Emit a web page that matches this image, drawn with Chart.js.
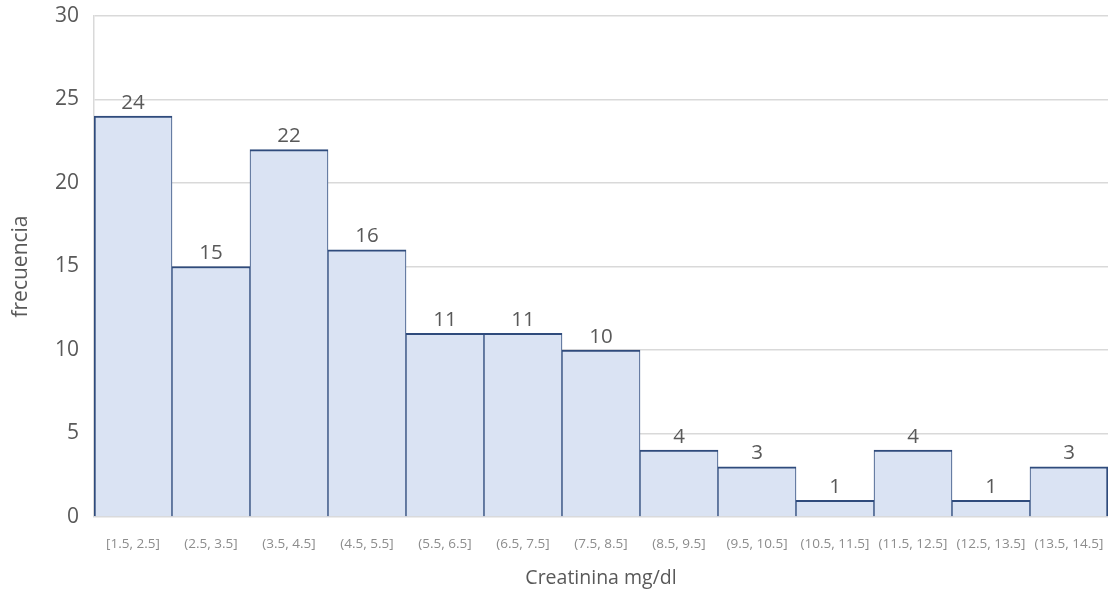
<!DOCTYPE html>
<html><head><meta charset="utf-8">
<script src="https://cdn.jsdelivr.net/npm/chart.js@4"></script>
<style>html,body{margin:0;padding:0;background:#fff}#wrap{width:1116px;height:601px}</style>
</head><body><div id="wrap"><canvas id="c" width="1116" height="601"></canvas></div>
<script>
const categories = ["[1.5, 2.5]","(2.5, 3.5]","(3.5, 4.5]","(4.5, 5.5]","(5.5, 6.5]","(6.5, 7.5]","(7.5, 8.5]","(8.5, 9.5]","(9.5, 10.5]","(10.5, 11.5]","(11.5, 12.5]","(12.5, 13.5]","(13.5, 14.5]"];
const frequencies = [24,15,22,16,11,11,10,4,3,1,4,1,3];
const yTicks = [0,5,10,15,20,25,30];
const xTitle = "Creatinina mg/dl";
const yTitle = "frecuencia";

const FONT = "'Open Sans', sans-serif";

const barLabels = {
  id:'barLabels',
  afterDatasetsDraw(chart){
    const ctx = chart.ctx;
    const meta = chart.getDatasetMeta(0);
    ctx.save();
    ctx.font = "20.5px " + FONT;
    ctx.fillStyle = "#595959";
    ctx.textAlign = "center";
    ctx.textBaseline = "bottom";
    meta.data.forEach((el,i)=>{
      ctx.fillText(String(chart.data.datasets[0].data[i]), el.x, el.y - 3);
    });
    ctx.restore();
  }
};

const last = frequencies.length - 1;

new Chart(document.getElementById('c'), {
  type:'bar',
  data:{labels:categories, datasets:[{data:frequencies, backgroundColor:'#dae3f3', borderColor:'#2f4b7c',
    borderWidth:(c)=>({top:2, bottom:0, left:c.dataIndex===0?2:1, right:c.dataIndex===last?2:1}),
    categoryPercentage:1, barPercentage:1, borderSkipped:false}]},
  options:{
    responsive:false, animation:false,
    layout:{padding:{top:16,right:8,bottom:0,left:0}},
    plugins:{legend:{display:false}, tooltip:{enabled:false}},
    scales:{
      x:{
        grid:{display:false, drawTicks:false},
        border:{display:false},
        ticks:{color:'#8c8c8c', font:{family:FONT, size:13.5}, padding:19, maxRotation:0, autoSkip:false},
        title:{display:true, text:xTitle, color:'#595959', font:{family:FONT, size:19.5}, padding:{top:0,bottom:11}},
        afterFit(s){ s.height = 84; s.paddingLeft = 0; s.paddingRight = 0; }
      },
      y:{
        min:0, max:30,
        afterBuildTicks(s){ s.ticks = yTicks.map(v=>({value:v})); },
        grid:{color:'#d9d9d9', lineWidth:1.5, drawTicks:false},
        border:{display:true, color:'#d9d9d9', width:1.5},
        ticks:{color:'#595959', font:{family:FONT, size:21}, padding:15},
        title:{display:true, text:yTitle, color:'#595959', font:{family:FONT, size:21}, padding:{top:8,bottom:0}},
        afterFit(s){ s.width = 94; s.paddingTop = 0; s.paddingBottom = 0; }
      }
    }
  },
  plugins:[barLabels]
});
</script></body></html>
